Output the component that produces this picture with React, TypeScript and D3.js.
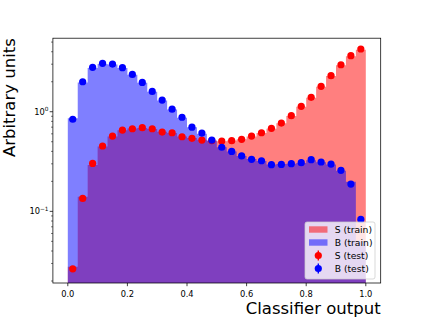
import React from "react";
import * as d3 from "d3";

const NBINS = 30;
const binEdges = d3.range(NBINS + 1).map((i) => i / NBINS);

const sTrain = [0.0278, 0.14, 0.292, 0.447, 0.565, 0.65, 0.68, 0.688, 0.67, 0.63, 0.61, 0.565, 0.545, 0.522, 0.51, 0.505, 0.515, 0.53, 0.565, 0.61, 0.675, 0.765, 0.905, 1.12, 1.38, 1.78, 2.28, 2.92, 3.6, 4.2];
const bTrain = [0.858, 1.97, 2.75, 3.02, 2.98, 2.74, 2.35, 1.95, 1.59, 1.3, 1.05, 0.87, 0.7, 0.6, 0.515, 0.44, 0.4, 0.36, 0.335, 0.32, 0.296, 0.298, 0.3, 0.306, 0.325, 0.312, 0.296, 0.255, 0.198, 0.05];
const sTest = [0.0265, 0.135, 0.303, 0.453, 0.57, 0.655, 0.675, 0.691, 0.675, 0.625, 0.615, 0.561, 0.541, 0.52, 0.512, 0.508, 0.512, 0.528, 0.57, 0.615, 0.681, 0.77, 0.912, 1.133, 1.395, 1.8, 2.3, 2.96, 3.65, 4.26];
const bTest = [0.84, 2.0, 2.79, 3.06, 3.01, 2.77, 2.37, 1.97, 1.6, 1.31, 1.06, 0.88, 0.7, 0.61, 0.52, 0.44, 0.4, 0.36, 0.333, 0.322, 0.294, 0.296, 0.301, 0.308, 0.33, 0.313, 0.298, 0.258, 0.188, 0.083];

const xTicks = [0, 0.2, 0.4, 0.6, 0.8, 1.0];
const xTickLabels = ["0.0", "0.2", "0.4", "0.6", "0.8", "1.0"];
const yMajor = [0.1, 1];
const yMajorExp = ["\u22121", "0"];
const xDomain = [-0.05, 1.05];
const yDomain = [0.0191, 5.47];

const legendItems = [
  { label: "S (train)", color: "#ff0000", kind: "patch" },
  { label: "B (train)", color: "#0000ff", kind: "patch" },
  { label: "S (test)", color: "#ff0000", kind: "marker" },
  { label: "B (test)", color: "#0000ff", kind: "marker" },
];

const W = 423, H = 318;
const L = 52.9, R = 380.7, T = 38.2, B = 283;
const FONT = "DejaVu Sans, sans-serif";

export default function App() {
  const x = d3.scaleLinear().domain(xDomain).range([L, R]);
  const y = d3.scaleLog().domain(yDomain).range([B, T]);

  const stepPath = (vals: number[]) => {
    let d = `M${x(binEdges[0])},${B + 5}`;
    vals.forEach((v, i) => {
      const yy = y(v);
      d += `L${x(binEdges[i])},${yy}L${x(binEdges[i + 1])},${yy}`;
    });
    d += `L${x(binEdges[NBINS])},${B + 5}Z`;
    return d;
  };
  const centers = d3.range(NBINS).map((i) => (binEdges[i] + binEdges[i + 1]) / 2);

  const minorTicks: number[] = [];
  [0.01, 0.1, 1].forEach((dec) => {
    for (let k = 2; k <= 9; k++) {
      const v = dec * k;
      if (v >= yDomain[0] && v <= yDomain[1]) minorTicks.push(v);
    }
  });

  const legX = 305, legY = 222, legW = 70, legH = 57;
  const rowY = (i: number) => legY + 7.5 + i * 13;

  return (
    <svg width={W} height={H} style={{ display: "block", position: "absolute", left: 0, top: 0 }} fontFamily={FONT}>
      <defs>
        <clipPath id="ax">
          <rect x={L} y={T} width={R - L} height={B - T} />
        </clipPath>
      </defs>
      <rect x={0} y={0} width={W} height={H} fill="white" />
      <g clipPath="url(#ax)">
        <path d={stepPath(sTrain)} fill="#ff0000" fillOpacity={0.5} />
        <path d={stepPath(bTrain)} fill="#0000ff" fillOpacity={0.5} />
        {sTest.map((v, i) => (
          <circle key={"s" + i} cx={x(centers[i])} cy={y(v)} r={3.6} fill="#ff0000" />
        ))}
        {bTest.map((v, i) => (
          <circle key={"b" + i} cx={x(centers[i])} cy={y(v)} r={3.6} fill="#0000ff" />
        ))}
      </g>
      <rect x={L} y={T} width={R - L} height={B - T} fill="none" stroke="#000" strokeWidth={0.75} />
      {xTicks.map((t, i) => (
        <g key={"xt" + i}>
          <line x1={x(t)} x2={x(t)} y1={B} y2={B + 3.2} stroke="#000" strokeWidth={0.75} />
          <text x={x(t)} y={296.5} fontSize={8.3} textAnchor="middle" fill="#000">{xTickLabels[i]}</text>
        </g>
      ))}
      {yMajor.map((t, i) => (
        <g key={"yt" + i}>
          <line x1={L - 3.2} x2={L} y1={y(t)} y2={y(t)} stroke="#000" strokeWidth={0.75} />
          <text x={48.5} y={y(t) + 3} fontSize={8.3} textAnchor="end" fill="#000">
            10<tspan fontSize={5.8} dy={-3.6}>{yMajorExp[i]}</tspan>
          </text>
        </g>
      ))}
      {minorTicks.map((t, i) => (
        <line key={"ym" + i} x1={L - 1.85} x2={L} y1={y(t)} y2={y(t)} stroke="#000" strokeWidth={0.55} />
      ))}
      <text x={R} y={314} fontSize={16.5} textAnchor="end" fill="#000">Classifier output</text>
      <text transform={`translate(15.3,${T}) rotate(-90)`} fontSize={16.5} textAnchor="end" fill="#000">Arbitrary units</text>
      <g>
        <rect x={legX} y={legY} width={legW} height={legH} rx={2} fill="white" fillOpacity={0.8} stroke="#cccccc" strokeWidth={0.75} />
        {legendItems.map((it, i) => (
          <g key={"lg" + i}>
            {it.kind === "patch" ? (
              <rect x={309} y={rowY(i) - 3.2} width={18.5} height={6.4} fill={it.color} fillOpacity={0.5} />
            ) : (
              <g>
                <line x1={318.3} x2={318.3} y1={rowY(i) - 5} y2={rowY(i) + 5} stroke={it.color} strokeWidth={1.4} />
                <circle cx={318.3} cy={rowY(i)} r={3.6} fill={it.color} />
              </g>
            )}
            <text x={334.7} y={rowY(i) + 3.3} fontSize={9.2} fill="#000">{it.label}</text>
          </g>
        ))}
      </g>
    </svg>
  );
}
